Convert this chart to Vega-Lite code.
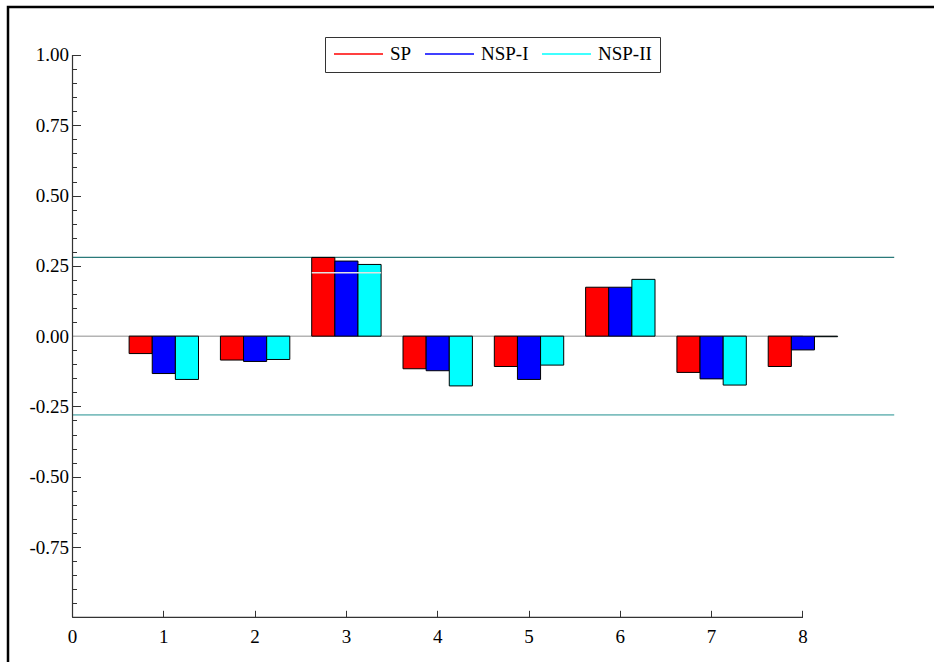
{
  "$schema": "https://vega.github.io/schema/vega-lite/v6.json",
  "width": 926,
  "height": 655,
  "autosize": {"type": "none"},
  "padding": {"left": 8, "top": 7, "right": 0, "bottom": 0},
  "background": "white",
  "config": {
    "view": {"stroke": "black", "strokeWidth": 2.5, "strokeDash": [926, 1581, 655]},
    "font": "Liberation Serif",
    "style": {"guide-label": {"font": "Liberation Serif", "fontSize": 19, "fill": "black"}},
    "axis": {
      "labelFont": "Liberation Serif",
      "labelFontSize": 19,
      "labelColor": "black",
      "tickColor": "#333333",
      "tickWidth": 1,
      "grid": false,
      "domain": false,
      "title": null
    }
  },
  "datasets": {
    "correlations": [
      {"lag": 1, "series": "SP", "r": -0.062},
      {"lag": 1, "series": "NSP-I", "r": -0.133},
      {"lag": 1, "series": "NSP-II", "r": -0.154},
      {"lag": 2, "series": "SP", "r": -0.085},
      {"lag": 2, "series": "NSP-I", "r": -0.090},
      {"lag": 2, "series": "NSP-II", "r": -0.083},
      {"lag": 3, "series": "SP", "r": 0.280},
      {"lag": 3, "series": "NSP-I", "r": 0.267},
      {"lag": 3, "series": "NSP-II", "r": 0.255},
      {"lag": 4, "series": "SP", "r": -0.116},
      {"lag": 4, "series": "NSP-I", "r": -0.123},
      {"lag": 4, "series": "NSP-II", "r": -0.177},
      {"lag": 5, "series": "SP", "r": -0.108},
      {"lag": 5, "series": "NSP-I", "r": -0.154},
      {"lag": 5, "series": "NSP-II", "r": -0.103},
      {"lag": 6, "series": "SP", "r": 0.174},
      {"lag": 6, "series": "NSP-I", "r": 0.174},
      {"lag": 6, "series": "NSP-II", "r": 0.202},
      {"lag": 7, "series": "SP", "r": -0.129},
      {"lag": 7, "series": "NSP-I", "r": -0.152},
      {"lag": 7, "series": "NSP-II", "r": -0.174},
      {"lag": 8, "series": "SP", "r": -0.108},
      {"lag": 8, "series": "NSP-I", "r": -0.049},
      {"lag": 8, "series": "NSP-II", "r": -0.002}
    ]
  },
  "resolve": {"axis": {"x": "independent", "y": "independent"}},
  "layer": [
    {
      "data": {"values": [{"start": 0, "end": 8, "level": 0}]},
      "mark": {"type": "rule", "color": "#b4b4b4", "strokeWidth": 1.5},
      "encoding": {
        "x": {"field": "start", "type": "ordinal", "bandPosition": 0.5, "axis": null,
              "scale": {"type": "band", "domain": [0, 1, 2, 3, 4, 5, 6, 7, 8, 9], "paddingInner": 0.24, "paddingOuter": 0.1912, "align": 0.854, "round": false}},
        "x2": {"field": "end"},
        "y": {"field": "level", "type": "quantitative", "axis": null,
              "scale": {"domain": [-1.159, 1.1707], "nice": false, "zero": false}}
      }
    },
    {
      "data": {"values": [{"start": 0, "end": 9, "level": 0.28}]},
      "mark": {"type": "rule", "color": "#2a7a7a", "strokeWidth": 1.2},
      "encoding": {
        "x": {"field": "start", "type": "ordinal", "bandPosition": 0.5, "axis": null},
        "x2": {"field": "end"},
        "y": {"field": "level", "type": "quantitative", "axis": null}
      }
    },
    {
      "data": {"values": [{"start": 0, "end": 9, "level": -0.28}]},
      "mark": {"type": "rule", "color": "#7fbfbf", "strokeWidth": 1.8},
      "encoding": {
        "x": {"field": "start", "type": "ordinal", "bandPosition": 0.5, "axis": null},
        "x2": {"field": "end"},
        "y": {"field": "level", "type": "quantitative", "axis": null}
      }
    },
    {
      "data": {"name": "correlations"},
      "mark": {"type": "bar", "stroke": "black", "strokeWidth": 1},
      "encoding": {
        "x": {"field": "lag", "type": "ordinal",
              "axis": {"orient": "bottom", "offset": -44.7, "values": [0, 1, 2, 3, 4, 5, 6, 7, 8], "bandPosition": 0.5, "tickSize": -7, "labelPadding": 17, "labelAngle": 0,
                       "labelFont": "Liberation Serif", "labelFontSize": 19, "labelColor": "black", "domain": false, "title": null}},
        "xOffset": {"field": "series", "type": "nominal", "sort": ["SP", "NSP-I", "NSP-II"],
                    "scale": {"domain": ["SP", "NSP-I", "NSP-II"], "paddingInner": 0, "paddingOuter": 0}},
        "y": {"field": "r", "type": "quantitative",
              "axis": {"orient": "left", "offset": -64.5, "values": [-0.75, -0.5, -0.25, 0, 0.25, 0.5, 0.75, 1], "format": ".2f", "labelExpr": "replace(datum.label, '−', '-')", "tickSize": -8, "labelPadding": 12, "labelOverlap": false, "labelFont": "Liberation Serif", "labelFontSize": 19, "labelColor": "black", "domain": false, "title": null}},
        "fill": {"field": "series", "type": "nominal", "sort": ["SP", "NSP-I", "NSP-II"],
                 "scale": {"range": ["#ff0000", "#0000ff", "#00ffff"]},
                 "legend": null}
      }
    },
    {
      "data": {"values": []},
      "mark": {"type": "line", "strokeWidth": 1.5},
      "encoding": {
        "x": {"field": "lag", "type": "ordinal", "axis": null},
        "y": {"field": "r", "type": "quantitative", "axis": null},
        "stroke": {"field": "series", "type": "nominal",
                   "scale": {"domain": ["SP", "NSP-I", "NSP-II"], "range": ["#ff0000", "#0000ff", "#00ffff"]},
                   "legend": {
                     "orient": "none", "legendX": 317, "legendY": 30, "direction": "horizontal", "title": null,
                     "symbolType": "stroke", "symbolSize": 2401, "symbolStrokeWidth": 1.5, "clipHeight": 18,
                     "labelFont": "Liberation Serif", "labelFontSize": 19, "labelColor": "black", "labelOffset": 6,
                     "columnPadding": 12, "padding": 8, "strokeColor": "#333333", "fillColor": "white"
                   }}
      }
    },
    {
      "data": {"values": [{"lag": 3, "low": 0.2225, "high": 0.2285}]},
      "mark": {"type": "bar", "color": "#e2e2e2"},
      "encoding": {
        "x": {"field": "lag", "type": "ordinal", "axis": null},
        "y": {"field": "low", "type": "quantitative", "axis": null},
        "y2": {"field": "high"}
      }
    },
    {
      "data": {"values": [{"at": 0, "bottom": -1, "top": 1}]},
      "mark": {"type": "rule", "color": "#333333", "strokeWidth": 1.2},
      "encoding": {
        "x": {"field": "at", "type": "ordinal", "bandPosition": 0.5, "axis": null},
        "y": {"field": "bottom", "type": "quantitative",
              "axis": {"orient": "left", "offset": -64.5, "values": [-0.95, -0.9, -0.85, -0.8, -0.7, -0.65, -0.6, -0.55, -0.45, -0.4, -0.35, -0.3, -0.2, -0.15, -0.1, -0.05, 0.05, 0.1, 0.15, 0.2, 0.3, 0.35, 0.4, 0.45, 0.55, 0.6, 0.65, 0.7, 0.8, 0.85, 0.9, 0.95], "tickSize": -4, "labels": false, "domain": false, "title": null}},
        "y2": {"field": "top"}
      }
    },
    {
      "data": {"values": [{"start": 0, "end": 8, "level": -1}]},
      "mark": {"type": "rule", "color": "#333333", "strokeWidth": 1.2},
      "encoding": {
        "x": {"field": "start", "type": "ordinal", "bandPosition": 0.5, "axis": null},
        "x2": {"field": "end"},
        "y": {"field": "level", "type": "quantitative", "axis": null}
      }
    }
  ]
}
